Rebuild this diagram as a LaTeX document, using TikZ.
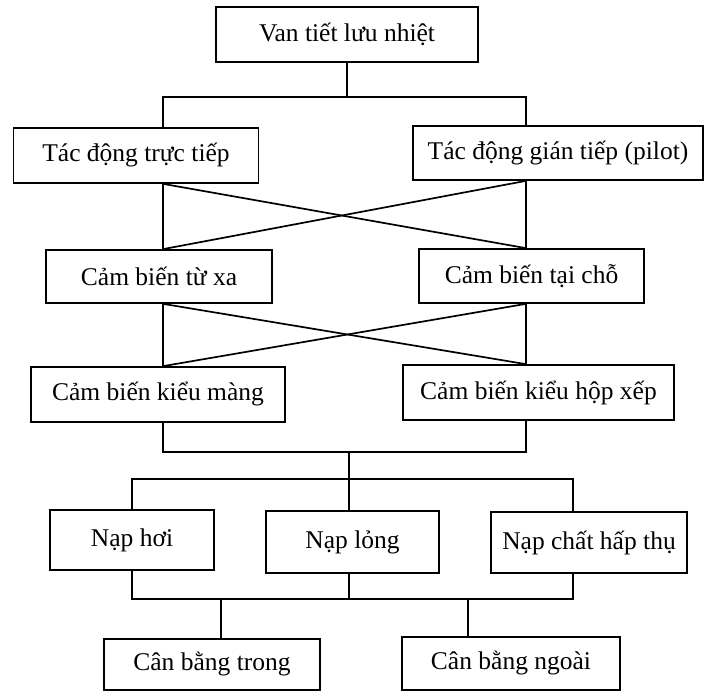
\documentclass[tikz,border=0pt]{standalone}
\usepackage{fontspec}
\setmainfont{Liberation Serif}
\usetikzlibrary{positioning, calc}

\begin{document}
\begin{tikzpicture}[
x=1pt, y=-1pt,
line width=1.7pt,
box/.style={draw, line width=1.7pt, align=center, inner sep=0pt, font=\fontsize{25.5}{30}\selectfont},
link/.style={line width=1.7pt}
]
\useasboundingbox (0,0) rectangle (706,692);

\node[box, minimum width=262pt, minimum height=55pt] (valve) at (347,34.5) {Van tiết lưu nhiệt};

\node[box, minimum width=245pt, minimum height=55pt] (direct) at (136,155.5) {Tác động trực tiếp};
\node[box, minimum width=290pt, minimum height=54pt] (pilot) at (558,153) {Tác động gián tiếp (pilot)};

\node[box, minimum width=226pt, minimum height=53pt] (remote) at (159,276.5) {Cảm biến từ xa};
\node[box, minimum width=225pt, minimum height=54pt] (local) at (531.5,276) {Cảm biến tại chỗ};

\node[box, minimum width=254pt, minimum height=55pt] (diaphragm) at (158,394.5) {Cảm biến kiểu màng};
\node[box, minimum width=271pt, minimum height=55pt] (bellows) at (538.5,392.5) {Cảm biến kiểu hộp xếp};

\node[box, minimum width=164pt, minimum height=60pt] (vapour) at (132,540) {Nạp hơi};
\node[box, minimum width=173pt, minimum height=62pt] (liquid) at (352.5,542) {Nạp lỏng};
\node[box, minimum width=196pt, minimum height=61pt] (adsorb) at (589,542.5) {Nạp chất hấp thụ};

\node[box, minimum width=216pt, minimum height=51pt] (inner) at (212,664.5) {Cân bằng trong};
\node[box, minimum width=218pt, minimum height=53pt] (outer) at (511,663.5) {Cân bằng ngoài};

\coordinate (lcol) at (163,0);
\coordinate (rcol) at (526,0);
\coordinate (split1) at (347,97);
\coordinate (join1) at (349,452);
\coordinate (split2) at (349,479);
\coordinate (ccol) at (573,0);
\coordinate (join2) at (349,599);
\coordinate (tapl) at (221,599);
\coordinate (tapr) at (468,599);

\draw[link] (valve) -- (split1);
\draw[link] (direct.north -| lcol) |- (split1) -| (pilot.north -| rcol);

\draw[link] (direct.south -| lcol) -- (remote.north -| lcol);
\draw[link] (pilot.south -| rcol) -- (local.north -| rcol);
\draw[link] (direct.south -| lcol) -- (local.north -| rcol);
\draw[link] (pilot.south -| rcol) -- (remote.north -| lcol);

\draw[link] (remote.south -| lcol) -- (diaphragm.north -| lcol);
\draw[link] (local.south -| rcol) -- (bellows.north -| rcol);
\draw[link] (remote.south -| lcol) -- (bellows.north -| rcol);
\draw[link] (local.south -| rcol) -- (diaphragm.north -| lcol);

\draw[link] (diaphragm.south -| lcol) |- (join1) -| (bellows.south -| rcol);
\draw[link] (join1) -- (split2);
\draw[link] (vapour.north) |- (split2) -| (adsorb.north -| ccol);
\draw[link] (split2) -- (liquid.north -| split2);

\draw[link] (vapour.south) |- (join2) -| (adsorb.south -| ccol);
\draw[link] (liquid.south -| join2) -- (join2);
\draw[link] (tapl) -- (inner.north -| tapl);
\draw[link] (tapr) -- (outer.north -| tapr);

\end{tikzpicture}
\end{document}
